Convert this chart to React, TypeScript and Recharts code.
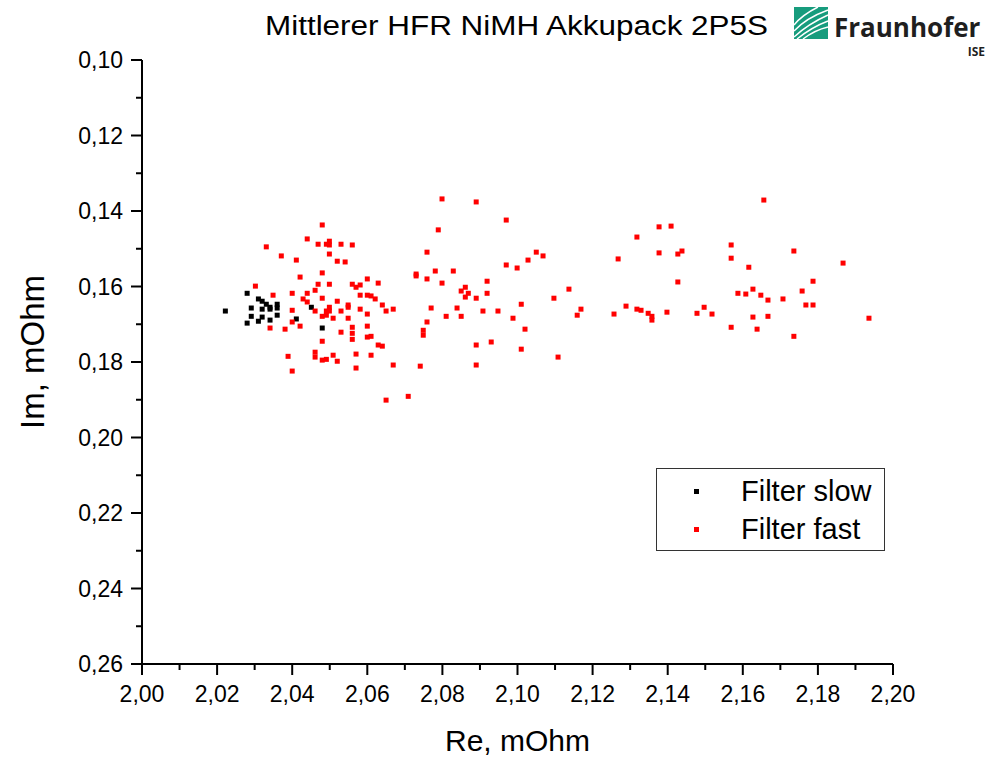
import { ScatterChart, Scatter, XAxis, YAxis } from 'recharts';

// Filter slow (black)
const slowRe = [
  2.0222, 2.028, 2.028, 2.0291, 2.0291, 2.031, 2.031, 2.032, 2.032, 2.032,
  2.0331, 2.0341, 2.0341, 2.0341, 2.036, 2.036, 2.036, 2.0411, 2.0451, 2.048,
];
const slowIm = [
  0.1665, 0.1618, 0.1697, 0.1657, 0.1679, 0.1633, 0.1692, 0.1639, 0.166, 0.1681,
  0.1647, 0.1655, 0.166, 0.1689, 0.1647, 0.1657, 0.1676, 0.1686, 0.1655, 0.171,
];

// Filter fast (red)
const fastRe = [
  2.048, 2.044, 2.0469, 2.0491, 2.0499, 2.0499, 2.053, 2.056, 2.0331, 2.0371,
  2.0411, 2.0499, 2.052, 2.0541, 2.048, 2.0421, 2.0302, 2.0469, 2.0499, 2.056,
  2.057, 2.0581, 2.06, 2.0629, 2.0461, 2.0349, 2.04, 2.044, 2.0429, 2.044,
  2.048, 2.052, 2.0581, 2.06, 2.061, 2.0621, 2.064, 2.065, 2.04, 2.0461,
  2.048, 2.0491, 2.0491, 2.0499, 2.0499, 2.0509, 2.053, 2.0549, 2.0549, 2.0549,
  2.0581, 2.06, 2.04, 2.0421, 2.0341, 2.0381, 2.056, 2.056, 2.056, 2.053,
  2.06, 2.06, 2.061, 2.0629, 2.064, 2.048, 2.0389, 2.0461, 2.0461, 2.048,
  2.0491, 2.0509, 2.052, 2.057, 2.061, 2.057, 2.04, 2.065,
  2.0799, 2.089, 2.097, 2.0789, 2.0759, 2.105, 2.1068, 2.1028, 2.097, 2.0999,
  2.073, 2.073, 2.0781, 2.0829, 2.0759, 2.0799, 2.0919, 2.0861, 2.085, 2.0869,
  2.0861, 2.0919, 2.089, 2.1097, 2.101, 2.0669, 2.077, 2.0839, 2.081, 2.085,
  2.0908, 2.0948, 2.0988, 2.0759, 2.102, 2.0749, 2.0749, 2.089, 2.093, 2.101,
  2.1108, 2.0669, 2.0741, 2.089, 2.0709,
  2.1377, 2.1409, 2.1318, 2.1268, 2.1377, 2.1427, 2.1438, 2.1427, 2.1137, 2.1169,
  2.1159, 2.1257, 2.1289, 2.1318, 2.1329, 2.1348, 2.1358, 2.1358, 2.1398, 2.1478,
  2.1497, 2.1518,
  2.1656, 2.1569, 2.1569, 2.1736, 2.1867, 2.1616, 2.1787, 2.1587, 2.1608, 2.1627,
  2.1648, 2.1667, 2.1707, 2.1758, 2.1768, 2.1787, 2.1627, 2.1667, 2.1936, 2.1569,
  2.1638, 2.1736,
];
const fastIm = [
  0.1437, 0.1474, 0.1488, 0.1488, 0.148, 0.149, 0.1488, 0.149, 0.1495, 0.1519,
  0.153, 0.1514, 0.1533, 0.1535, 0.1564, 0.1575, 0.1599, 0.1594, 0.1594, 0.1594,
  0.1602, 0.1596, 0.158, 0.1591, 0.161, 0.1623, 0.1618, 0.1618, 0.1633, 0.1641,
  0.1631, 0.1639, 0.1623, 0.1623, 0.1625, 0.1633, 0.1649, 0.1665, 0.1663, 0.1665,
  0.1679, 0.1676, 0.1665, 0.1655, 0.1665, 0.1684, 0.1665, 0.1649, 0.1655, 0.1684,
  0.166, 0.1673, 0.1694, 0.1705, 0.171, 0.1713, 0.1708, 0.1724, 0.174, 0.1721,
  0.1705, 0.1734, 0.1732, 0.1755, 0.1758, 0.1745, 0.1785, 0.1774, 0.1787, 0.1795,
  0.1793, 0.1782, 0.1798, 0.1779, 0.1782, 0.1816, 0.1824, 0.1901,
  0.1368, 0.1376, 0.1424, 0.145, 0.1509, 0.1509, 0.1519, 0.153, 0.1543, 0.1551,
  0.1567, 0.1572, 0.1559, 0.1559, 0.158, 0.1591, 0.1586, 0.1602, 0.1612, 0.1618,
  0.1628, 0.1618, 0.1631, 0.1631, 0.1647, 0.166, 0.1657, 0.1657, 0.1679, 0.1679,
  0.1665, 0.1665, 0.1684, 0.1694, 0.1713, 0.1716, 0.1729, 0.1755, 0.1747, 0.1766,
  0.1787, 0.1808, 0.1811, 0.1808, 0.1891,
  0.1442, 0.144, 0.1469, 0.1527, 0.1511, 0.1514, 0.1506, 0.1588, 0.1607, 0.166,
  0.1676, 0.1673, 0.1652, 0.166, 0.1663, 0.1671, 0.1679, 0.1689, 0.1668, 0.1671,
  0.1655, 0.1673,
  0.1371, 0.149, 0.1525, 0.1506, 0.1538, 0.1549, 0.1586, 0.1618, 0.162, 0.1607,
  0.1623, 0.1636, 0.1633, 0.1612, 0.1649, 0.1649, 0.1681, 0.1679, 0.1684, 0.1708,
  0.1713, 0.1732,
];

const xTicks = [
  2.0, 2.01, 2.02, 2.03, 2.04, 2.05, 2.06, 2.07, 2.08, 2.09, 2.1,
  2.11, 2.12, 2.13, 2.14, 2.15, 2.16, 2.17, 2.18, 2.19, 2.2,
];
const yTicks = [
  0.1, 0.11, 0.12, 0.13, 0.14, 0.15, 0.16, 0.17, 0.18,
  0.19, 0.2, 0.21, 0.22, 0.23, 0.24, 0.25, 0.26,
];

const slowData = slowRe.map((re, i) => ({ re, im: slowIm[i] }));
const fastData = fastRe.map((re, i) => ({ re, im: fastIm[i] }));

const FONT = '"Liberation Sans", Arial, Helvetica, sans-serif';

const fmt = (v: number) => v.toFixed(2).replace('.', ',');
const isMajor = (v: number) => Math.round(v * 100) % 2 === 0;

function XTick(props: any) {
  const { x, y, payload } = props;
  const major = isMajor(payload.value);
  return (
    <g>
      <line x1={x} x2={x} y1={y} y2={y + (major ? 11 : 6)} stroke="#000" strokeWidth={2} />
      {major && (
        <text x={x} y={y + 38} textAnchor="middle" fontSize={23} fontFamily={FONT} fill="#000">
          {fmt(payload.value)}
        </text>
      )}
    </g>
  );
}

function YTick(props: any) {
  const { x, y, payload } = props;
  const major = isMajor(payload.value);
  return (
    <g>
      <line x1={x} x2={x - (major ? 11 : 6)} y1={y} y2={y} stroke="#000" strokeWidth={2} />
      {major && (
        <text x={x - 19} y={y + 8} textAnchor="end" fontSize={23} fontFamily={FONT} fill="#000">
          {fmt(payload.value)}
        </text>
      )}
    </g>
  );
}

function YTitle() {
  return (
    <text x={0} y={0} transform="translate(44, 352) rotate(-90)" textAnchor="middle" fontSize={33} fontFamily={FONT} fill="#000">
      Im, mOhm
    </text>
  );
}

const square = (color: string) => (props: any) => (
  <rect x={props.cx - 2.5} y={props.cy - 2.5} width={5} height={5} fill={color} />
);

export default function App() {
  return (
    <div style={{ position: 'absolute', left: 0, top: 0, width: 989, height: 758, background: '#fff' }}>
      <ScatterChart width={989} height={758} margin={{ top: 60, right: 96, bottom: 0, left: 0 }}>
        <XAxis
          type="number"
          dataKey="re"
          domain={[2.0, 2.2]}
          ticks={xTicks}
          interval={0}
          height={94}
          tickSize={0}
          tickMargin={0}
          tickLine={false}
          tick={<XTick />}
          axisLine={{ stroke: '#000', strokeWidth: 2 }}
          label={{ value: 'Re, mOhm', position: 'insideBottom', offset: 7, fontSize: 30, fontFamily: FONT, fill: '#000' }}
        />
        <YAxis
          type="number"
          dataKey="im"
          domain={[0.1, 0.26]}
          reversed
          ticks={yTicks}
          interval={0}
          width={142}
          tickSize={0}
          tickMargin={0}
          tickLine={false}
          tick={<YTick />}
          axisLine={{ stroke: '#000', strokeWidth: 2 }}
          label={<YTitle />}
        />
        <Scatter name="Filter slow" data={slowData} fill="#000" shape={square('#000')} isAnimationActive={false} />
        <Scatter name="Filter fast" data={fastData} fill="#f00" shape={square('#f00')} isAnimationActive={false} />
      </ScatterChart>

      <svg width={989} height={60} style={{ position: 'absolute', left: 0, top: 0 }}>
        <text x={265} y={35} fontSize={27} fontFamily={FONT} fill="#000" textLength={503} lengthAdjust="spacingAndGlyphs">
          Mittlerer HFR NiMH Akkupack 2P5S
        </text>
        <rect x={794} y={7} width={34} height={32} fill="#179c7d" />
        <path d="M794 37 Q808 24 828 15" stroke="#fff" strokeWidth={1.4} fill="none" />
        <path d="M797 39 Q812 27 828 21" stroke="#fff" strokeWidth={1.4} fill="none" />
        <path d="M803 39 Q815 30 828 27" stroke="#fff" strokeWidth={1.4} fill="none" />
        <path d="M794 31 Q806 18 828 10" stroke="#fff" strokeWidth={1.4} fill="none" />
        <path d="M794 25 Q802 15 818 7" stroke="#fff" strokeWidth={1.4} fill="none" />
        <text x={834} y={37} fontSize={26} fontWeight={700} fontFamily='"Open Sans", sans-serif' fill="#1f1f1f">
          Fraunhofer
        </text>
        <text x={985} y={56} textAnchor="end" fontSize={12} fontWeight={700} fontFamily='"Open Sans", sans-serif' fill="#1f1f1f">
          ISE
        </text>
      </svg>

      <div
        style={{
          position: 'absolute', left: 656, top: 468, width: 229, height: 83, boxSizing: 'border-box',
          border: '1px solid #333', fontFamily: FONT, fontSize: 29, color: '#000',
        }}
      >
        {[{ name: 'Filter slow', color: '#000' }, { name: 'Filter fast', color: '#f00' }].map((s, i) => (
          <div key={s.name} style={{ position: 'absolute', left: 0, top: 6 + i * 38, height: 32, display: 'flex', alignItems: 'center' }}>
            <span style={{ display: 'inline-block', width: 5, height: 5, background: s.color, marginLeft: 37, marginRight: 42 }} />
            <span>{s.name}</span>
          </div>
        ))}
      </div>
    </div>
  );
}
